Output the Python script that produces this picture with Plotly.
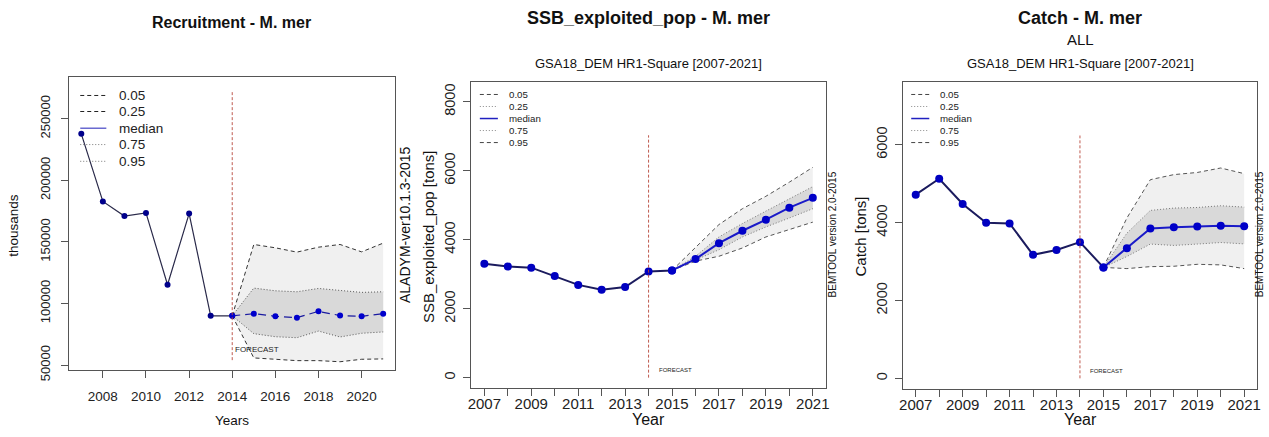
import plotly.graph_objects as go

W, H = 1269, 437
FONT = "Liberation Sans, Arial, sans-serif"

# ---------------- data ----------------
YEARS = list(range(2007, 2022))

# Recruitment (thousands)
REC_MEDIAN = [237700, 182800, 171000, 173500, 115200, 173000, 90000, 90000,
              91700, 89600, 88500, 93600, 90200, 89600, 91700]
REC_HIST_END = 2014
REC_BAND_YEARS = list(range(2014, 2022))
REC_Q05 = [90000, 55800, 54700, 53600, 53600, 52700, 54700, 55000]
REC_Q25 = [90000, 75500, 73000, 72200, 77600, 72800, 75800, 76900]
REC_Q75 = [90000, 112500, 110300, 109500, 112200, 110300, 109000, 109500]
REC_Q95 = [90000, 147900, 145200, 141700, 145700, 147900, 141900, 149000]
REC_XTICKS = [2008, 2010, 2012, 2014, 2016, 2018, 2020]
REC_YTICKS = [50000, 100000, 150000, 200000, 250000]
REC_FORECAST_SPAN = [54000, 272000]

# SSB exploited pop (tons)
SSB_MEDIAN = [3300, 3220, 3190, 2950, 2690, 2550, 2630, 3080,
              3110, 3440, 3900, 4260, 4580, 4930, 5215]
SSB_HIST_END = 2015
SSB_BAND_YEARS = list(range(2015, 2022))
SSB_Q05 = [3110, 3380, 3520, 3760, 4080, 4290, 4510]
SSB_Q25 = [3110, 3400, 3710, 4080, 4370, 4630, 4900]
SSB_Q75 = [3110, 3520, 4080, 4470, 4830, 5190, 5540]
SSB_Q95 = [3110, 3760, 4440, 4900, 5260, 5670, 6100]
SSB_YTICKS = [0, 2000, 4000, 6000, 8000]
SSB_FORECAST_SPAN = [0, 7030]

# Catch (tons)
CATCH_MEDIAN = [4720, 5130, 4480, 4000, 3980, 3175, 3300, 3500,
                2850, 3345, 3850, 3885, 3900, 3920, 3910]
CATCH_HIST_END = 2015
CATCH_BAND_YEARS = list(range(2015, 2022))
CATCH_Q05 = [2850, 2820, 2870, 2880, 2930, 2915, 2820]
CATCH_Q25 = [2850, 3130, 3450, 3415, 3450, 3490, 3455]
CATCH_Q75 = [2850, 3730, 4315, 4375, 4390, 4435, 4400]
CATCH_Q95 = [2850, 4120, 5105, 5235, 5290, 5405, 5260]
CATCH_YTICKS = [0, 2000, 4000, 6000]
CATCH_FORECAST_SPAN = [0, 6240]

ALL_XTICK_TEXT = [str(y) if (y - 2007) % 2 == 0 else "" for y in YEARS]
FORECAST_YEAR = 2014
LEGEND_LABELS = ["0.05", "0.25", "median", "0.75", "0.95"]

# ---------------- styles ----------------
DASH = "4px,3px"
DOT = "1px,2px"
OUTER_FILL = "#f0f0f0"
INNER_FILL = "#d9d9d9"
BORDER = "#555555"


# target-pixel -> figure-pixel (compensates the capture's slight rescale)
def X(r):
    return (r - 5.0) / 0.9905


def Y(r):
    return (r - 0.7) / 0.973


def fx(r):
    return X(r) / W


def fy(r):
    return 1 - Y(r) / H


fig = go.Figure()


def add_panel(n, median, hist_end, band_years, q05, q25, q75, q95,
              fc_span, left_style):
    xa = "x" if n == 1 else f"x{n}"
    ya = "y" if n == 1 else f"y{n}"
    kw = dict(xaxis=xa, yaxis=ya, showlegend=False, hoverinfo="skip")
    if left_style:
        outer_dash, outer_col = DASH, "#333333"
        inner_dash, inner_col = DOT, "#555555"
    else:
        outer_dash, outer_col = DASH, "#555555"
        inner_dash, inner_col = DOT, "#777777"
    fig.add_trace(go.Scatter(x=band_years, y=q95, mode="lines",
                             line=dict(color=outer_col, width=1, dash=outer_dash), **kw))
    fig.add_trace(go.Scatter(x=band_years, y=q05, mode="lines", fill="tonexty",
                             fillcolor=OUTER_FILL,
                             line=dict(color=outer_col, width=1, dash=outer_dash), **kw))
    fig.add_trace(go.Scatter(x=band_years, y=q75, mode="lines",
                             line=dict(color=inner_col, width=1, dash=inner_dash), **kw))
    fig.add_trace(go.Scatter(x=band_years, y=q25, mode="lines", fill="tonexty",
                             fillcolor=INNER_FILL,
                             line=dict(color=inner_col, width=1, dash=inner_dash), **kw))
    hx = [y for y in YEARS if y <= hist_end]
    hy = [v for y, v in zip(YEARS, median) if y <= hist_end]
    fx_ = [y for y in YEARS if y >= hist_end]
    fy_ = [v for y, v in zip(YEARS, median) if y >= hist_end]
    if left_style:
        fig.add_trace(go.Scatter(x=hx, y=hy, mode="lines+markers",
                                 line=dict(color="#2a2a4a", width=1.2),
                                 marker=dict(color="#00008b", size=6), **kw))
        fig.add_trace(go.Scatter(x=fx_, y=fy_, mode="lines+markers",
                                 line=dict(color="#1a1aa0", width=1.2, dash="8px,5px"),
                                 marker=dict(color="#0000cc", size=6), **kw))
    else:
        fig.add_trace(go.Scatter(x=hx, y=hy, mode="lines+markers",
                                 line=dict(color="#1b1b5e", width=2),
                                 marker=dict(color="#0000c0", size=8), **kw))
        fig.add_trace(go.Scatter(x=fx_, y=fy_, mode="lines+markers",
                                 line=dict(color="#1a1ac8", width=2),
                                 marker=dict(color="#0000c8", size=8), **kw))
    fig.add_trace(go.Scatter(x=[FORECAST_YEAR, FORECAST_YEAR], y=fc_span, mode="lines",
                             line=dict(color="#b8483c", width=0.9, dash="3px,2px"), **kw))


add_panel(1, REC_MEDIAN, REC_HIST_END, REC_BAND_YEARS, REC_Q05, REC_Q25, REC_Q75,
          REC_Q95, REC_FORECAST_SPAN, True)
add_panel(2, SSB_MEDIAN, SSB_HIST_END, SSB_BAND_YEARS, SSB_Q05, SSB_Q25, SSB_Q75,
          SSB_Q95, SSB_FORECAST_SPAN, False)
add_panel(3, CATCH_MEDIAN, CATCH_HIST_END, CATCH_BAND_YEARS, CATCH_Q05, CATCH_Q25,
          CATCH_Q75, CATCH_Q95, CATCH_FORECAST_SPAN, False)


def xaxis(dom, tickvals, ticktext, size, anchor, standoff):
    return dict(domain=dom, range=[2006.44, 2021.56], tickvals=tickvals, ticktext=ticktext,
                ticks="outside", ticklen=7, tickcolor=BORDER, showline=True, mirror=True,
                linecolor=BORDER, linewidth=1, showgrid=False, zeroline=False,
                tickfont=dict(family=FONT, size=size, color="#222"), anchor=anchor,
                ticklabelstandoff=standoff)


def yaxis(dom, rng, tickvals, size, anchor, standoff):
    return dict(domain=dom, range=rng, tickvals=tickvals, ticktext=[str(v) for v in tickvals],
                ticks="outside", ticklen=7,
                tickcolor=BORDER, showline=True, mirror=True, linecolor=BORDER, linewidth=1,
                showgrid=False, zeroline=False, tickangle=-90,
                tickfont=dict(family=FONT, size=size, color="#222"), anchor=anchor,
                ticklabelstandoff=standoff)


fig.update_layout(
    width=W, height=H, autosize=False,
    margin=dict(l=0, r=0, t=0, b=0),
    paper_bgcolor="white", plot_bgcolor="white",
    showlegend=False,
    xaxis=xaxis([fx(70), fx(395)], REC_XTICKS, [str(v) for v in REC_XTICKS], 13.5, "y", 7),
    yaxis=yaxis([fy(370), fy(78)], [46000, 283500], REC_YTICKS, 13, "x", 6),
    xaxis2=xaxis([fx(470.7), fx(824.3)], YEARS, ALL_XTICK_TEXT, 15, "y2", -5),
    yaxis2=yaxis([fy(388.3), fy(82.7)], [-310, 8570], SSB_YTICKS, 14.5, "x2", 2),
    xaxis3=xaxis([fx(900.7), fx(1254.3)], YEARS, ALL_XTICK_TEXT, 15, "y3", -5),
    yaxis3=yaxis([fy(389), fy(82.7)], [-275, 7611], CATCH_YTICKS, 14.5, "x3", 2),
)

ann = []


def text(x, y, s, size, bold=False, angle=0, xanchor="center", color="#111"):
    ann.append(dict(x=fx(x), y=fy(y), xref="paper", yref="paper",
                    text=f"<b>{s}</b>" if bold else s,
                    showarrow=False, xanchor=xanchor, yanchor="middle", textangle=angle,
                    font=dict(family=FONT, size=size, color=color)))


# titles
text(232, 23, "Recruitment - M. mer", 16, bold=True)
text(647.7, 18.5, "SSB_exploited_pop - M. mer", 18, bold=True)
text(1077.7, 18.5, "Catch - M. mer", 18, bold=True)
text(1077.7, 40, "ALL", 15)
text(647.7, 64, "GSA18_DEM HR1-Square [2007-2021]", 13)
text(1077.7, 64, "GSA18_DEM HR1-Square [2007-2021]", 13)
# axis titles / side texts
text(15, 226, "thousands", 13.5, angle=-90)
text(232, 420.5, "Years", 13.5)
text(404, 225, "ALADYM-ver10.1.3-2015", 14, angle=-90)
text(428.3, 236.7, "SSB_exploited_pop [tons]", 15, angle=-90)
text(647.7, 419.5, "Year", 16)
text(831, 235, "BEMTOOL version 2.0-2015", 10, angle=-90)
text(858.3, 236.7, "Catch [tons]", 15, angle=-90)
text(1077.7, 419.5, "Year", 16)
text(1256.5, 235, "BEMTOOL version 2.0-2015", 10, angle=-90)

# FORECAST labels (data coords)
for xr, yr, yv, sz, shift in [("x", "y", 63000, 8, 1), ("x2", "y2", 220, 6, 8),
                              ("x3", "y3", 200, 6, 8)]:
    ann.append(dict(x=FORECAST_YEAR, y=yv, xref=xr, yref=yr, text="FORECAST", showarrow=False,
                    xanchor="left", yanchor="middle", xshift=shift,
                    font=dict(family=FONT, size=sz, color="#222")))

# legends (drawn manually)
shapes = []


def legend(x0, x1, xt, rows, size, styles):
    for lab, yy, (dash, col, wdt) in zip(LEGEND_LABELS, rows, styles):
        shapes.append(dict(type="line", xref="paper", yref="paper", x0=fx(x0), x1=fx(x1),
                           y0=fy(yy), y1=fy(yy), line=dict(color=col, width=wdt, dash=dash)))
        text(xt, yy, lab, size, xanchor="left", color="#222")


legend(81, 107, 118, [96, 112, 128.7, 145, 161.7], 13.5,
       [(DASH, "#222", 1), (DASH, "#222", 1), ("solid", "#6a6ad0", 1.5),
        (DOT, "#777", 1), (DOT, "#777", 1)])
for off in (0, 430):
    legend(479.3 + off, 497.3 + off, 506 + off, [95, 107, 119, 131, 143], 9.7,
           [(DASH, "#444", 1), (DOT, "#888", 1), ("solid", "#2020c0", 1.5),
            (DOT, "#888", 1), (DASH, "#444", 1)])

fig.update_layout(annotations=ann, shapes=shapes)
fig.write_html("out.html", config={"displayModeBar": False},
               post_script="document.body.style.margin='0';document.body.style.padding='0';")
